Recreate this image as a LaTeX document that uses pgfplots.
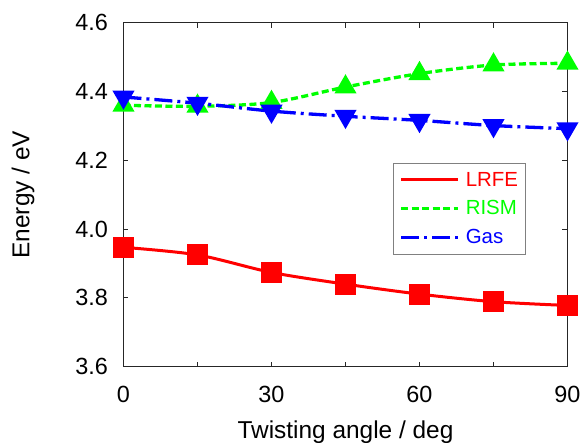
\documentclass[border=0pt]{standalone}
\usepackage{pgfplots}
\pgfplotsset{compat=1.18}
\usepackage{fontspec}
\setmainfont{Liberation Sans}
\definecolor{lgreen}{RGB}{0,255,0}
\definecolor{lblue}{RGB}{0,0,255}
\definecolor{lred}{RGB}{255,0,0}
\begin{document}
\begin{tikzpicture}
\begin{axis}[
  at={(0,0)}, anchor=south west,
  scale only axis, width=444bp, height=344bp,
  xmin=0, xmax=90, ymin=3.6, ymax=4.6,
  xtick={0,30,60,90}, minor xtick={15,45,75},
  ytick={3.6,3.8,4.0,4.2,4.4,4.6},
  yticklabel style={/pgf/number format/fixed, /pgf/number format/fixed zerofill, /pgf/number format/precision=1},
  /pgf/number format/assume math mode=true,
  tick align=inside, major tick length=5bp, minor tick length=5bp,
  axis line style={black!85, line width=1bp},
  every tick/.style={black!85, line width=0.9bp},
  ticklabel style={font=\fontsize{23.5}{27}\selectfont, inner sep=0pt},
  xticklabel style={anchor=north, yshift=-19.3bp},
  yticklabel style={anchor=east, xshift=-15.5bp},
  xlabel={Twisting angle / deg}, ylabel={Energy / eV},
  label style={font=\fontsize{24.5}{28}\selectfont, inner sep=0pt},
  xlabel style={at={(axis description cs:0.5,0)}, anchor=base, yshift=-71.3bp},
  ylabel style={at={(axis description cs:-0.2264,0.5)}, anchor=center},
  clip=false,
  legend cell align=left,
  legend style={at={(rel axis cs:0.607,0.593)}, anchor=north west,
    draw=gray, line width=1bp, font=\fontsize{20.5}{24}\selectfont,
    inner xsep=6bp, inner ysep=7bp, row sep=9bp,
    /tikz/every odd column/.append style={column sep=4bp}},
  legend image code/.code={\draw[#1] (0bp,0bp) -- (57bp,0bp);},
]
\addplot[lred, line width=3bp, smooth, mark=square*, mark size=9bp, mark options={solid}]
  coordinates {(0,3.947)(15,3.925)(30,3.874)(45,3.840)(60,3.811)(75,3.789)(90,3.778)};
\addlegendentry{\textcolor{lred}{LRFE}}
\addplot[lgreen, line width=3.3bp, smooth, dash pattern=on 7bp off 3.5bp, mark=triangle*, mark size=9.5bp, mark options={solid}]
  coordinates {(0,4.360)(15,4.357)(30,4.368)(45,4.413)(60,4.452)(75,4.477)(90,4.482)};
\addlegendentry{\textcolor{lgreen}{RISM}}
\addplot[lblue, line width=3.3bp, smooth, dash pattern=on 18bp off 5bp on 3bp off 5bp, mark=triangle*, mark size=9.5bp, mark options={solid, rotate=180}]
  coordinates {(0,4.384)(15,4.366)(30,4.343)(45,4.328)(60,4.316)(75,4.301)(90,4.292)};
\addlegendentry{\textcolor{lblue}{Gas}}
\end{axis}
\pgfresetboundingbox
\useasboundingbox (-123.5bp,-76.3bp) rectangle (461.5bp,366.7bp);
\end{tikzpicture}
\end{document}
